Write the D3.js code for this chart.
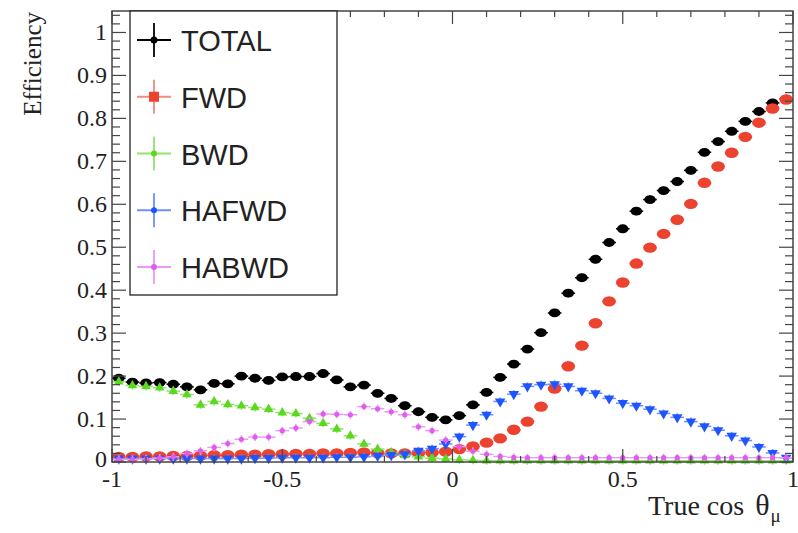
<!DOCTYPE html>
<html>
<head>
<meta charset="utf-8">
<script src="https://cdn.jsdelivr.net/npm/d3@7"></script>
<style>
body { margin: 0; background: #fff; }
svg { display: block; }
</style>
</head>
<body>
<div id="chart"></div>
<script>
// bin centres of true cos(theta_mu), 50 bins of 0.04
var cosTheta = [-0.98,-0.94,-0.90,-0.86,-0.82,-0.78,-0.74,-0.70,-0.66,-0.62,
	-0.58,-0.54,-0.50,-0.46,-0.42,-0.38,-0.34,-0.30,-0.26,-0.22,
	-0.18,-0.14,-0.10,-0.06,-0.02,0.02,0.06,0.10,0.14,0.18,
	0.22,0.26,0.30,0.34,0.38,0.42,0.46,0.50,0.54,0.58,
	0.62,0.66,0.70,0.74,0.78,0.82,0.86,0.90,0.94,0.98];
var binHalfWidth = 0.02;

var totalEff = [0.195,0.186,0.184,0.185,0.181,0.175,0.168,0.183,0.182,0.200,
	0.195,0.190,0.198,0.199,0.199,0.206,0.191,0.175,0.179,0.160,
	0.148,0.131,0.117,0.104,0.098,0.108,0.133,0.162,0.197,0.228,
	0.263,0.301,0.347,0.393,0.429,0.472,0.511,0.543,0.584,0.611,
	0.632,0.653,0.679,0.721,0.746,0.770,0.793,0.816,0.836,0.845];
var fwdEff = [0.012,0.012,0.013,0.013,0.014,0.014,0.015,0.016,0.016,0.017,
	0.017,0.018,0.018,0.019,0.019,0.020,0.020,0.021,0.022,0.021,
	0.020,0.020,0.021,0.022,0.024,0.030,0.036,0.045,0.055,0.075,
	0.094,0.129,0.171,0.223,0.271,0.323,0.374,0.418,0.462,0.499,
	0.531,0.564,0.601,0.650,0.688,0.720,0.757,0.790,0.823,0.844];
var bwdEff = [0.187,0.178,0.176,0.173,0.165,0.157,0.133,0.141,0.134,0.131,
	0.127,0.123,0.115,0.113,0.102,0.090,0.077,0.061,0.042,0.030,
	0.022,0.016,0.012,0.009,0.007,0.005,0.004,0.003,0.003,0.003,
	0.003,0.003,0.003,0.003,0.003,0.003,0.003,0.003,0.003,0.003,
	0.003,0.003,0.003,0.003,0.003,0.003,0.003,0.003,0.003,0.003];
var hafwdEff = [0.008,0.008,0.008,0.008,0.008,0.008,0.008,0.008,0.008,0.008,
	0.009,0.009,0.010,0.010,0.010,0.010,0.011,0.011,0.012,0.014,
	0.016,0.018,0.026,0.031,0.042,0.059,0.086,0.110,0.141,0.158,
	0.176,0.180,0.181,0.176,0.166,0.160,0.148,0.137,0.131,0.123,
	0.113,0.104,0.094,0.083,0.074,0.061,0.050,0.035,0.021,0.010];
var habwdEff = [0.006,0.006,0.007,0.009,0.012,0.020,0.026,0.034,0.043,0.053,
	0.058,0.058,0.073,0.079,0.094,0.112,0.111,0.110,0.129,0.124,
	0.117,0.110,0.082,0.073,0.051,0.036,0.025,0.018,0.013,0.011,
	0.010,0.010,0.010,0.010,0.010,0.010,0.010,0.010,0.010,0.010,
	0.010,0.010,0.010,0.010,0.010,0.010,0.010,0.010,0.010,0.010];

var seriesNames = ['TOTAL', 'FWD', 'BWD', 'HAFWD', 'HABWD'];
var xTickLabels = ['-1', '-0.5', '0', '0.5', '1'];
var yTickLabels = ['0', '0.1', '0.2', '0.3', '0.4', '0.5', '0.6', '0.7', '0.8', '0.9', '1'];

var W = 798, H = 533;
var frame = { left: 112, right: 793, top: 11, bottom: 462 };

var svg = d3.select('#chart')
	.append('svg')
	.attr('width', W)
	.attr('height', H)
	.style('background', '#fff');

var xScale = d3.scaleLinear().domain([-1, 1]).range([frame.left, frame.right]);
var yScale = d3.scaleLinear().domain([0, 1.05]).range([frame.bottom, frame.top]);

// series styles (ROOT-ish markers)
var styles = {
	TOTAL: { color: '#000000', err: '#000000', marker: 'ellipse', rx: 5.8, ry: 4.4 },
	FWD:   { color: '#ec4330', err: '#f08a7c', marker: 'ellipse', rx: 6.8, ry: 5.2 },
	BWD:   { color: '#5cd820', err: '#8fe46a', marker: 'tri', size: 40 },
	HAFWD: { color: '#1f55ff', err: '#6d8fff', marker: 'tridown', size: 48 },
	HABWD: { color: '#e05cf0', err: '#ec9af5', marker: 'dot', r: 2.6 }
};

var series = [
	{ name: 'TOTAL', values: totalEff },
	{ name: 'FWD', values: fwdEff },
	{ name: 'BWD', values: bwdEff },
	{ name: 'HAFWD', values: hafwdEff },
	{ name: 'HABWD', values: habwdEff }
];

function drawMarker(g, st) {
	if (st.marker === 'ellipse') {
		g.append('ellipse').attr('rx', st.rx).attr('ry', st.ry).attr('fill', st.color);
	} else if (st.marker === 'tri') {
		g.append('path').attr('d', d3.symbol().type(d3.symbolTriangle).size(st.size)())
			.attr('fill', st.color);
	} else if (st.marker === 'tridown') {
		g.append('path').attr('d', d3.symbol().type(d3.symbolTriangle).size(st.size)())
			.attr('transform', 'rotate(180)')
			.attr('fill', st.color);
	} else {
		g.append('circle').attr('r', st.r).attr('fill', st.color);
	}
}

// Data points with error bars
var plot = svg.append('g').attr('class', 'points');
series.forEach(function (s) {
	var st = styles[s.name];
	var pts = plot.append('g').attr('class', 'series')
		.selectAll('g')
		.data(s.values.map(function (v, i) { return { x: cosTheta[i], y: v }; }))
		.enter()
		.append('g')
		.attr('transform', function (d) {
			return 'translate(' + xScale(d.x) + ',' + yScale(d.y) + ')';
		});
	pts.append('line')
		.attr('x1', function (d) { return xScale(d.x - binHalfWidth) - xScale(d.x); })
		.attr('x2', function (d) { return xScale(d.x + binHalfWidth) - xScale(d.x); })
		.attr('stroke', st.err)
		.attr('stroke-width', 1.5);
	pts.append('line')
		.attr('y1', -4).attr('y2', 4)
		.attr('stroke', st.err)
		.attr('stroke-width', 1.5);
	pts.each(function () { drawMarker(d3.select(this), st); });
});

// Frame
svg.append('rect')
	.attr('x', frame.left)
	.attr('y', frame.top)
	.attr('width', frame.right - frame.left)
	.attr('height', frame.bottom - frame.top)
	.attr('fill', 'none')
	.attr('stroke', '#444')
	.attr('stroke-width', 1.5);

// X ticks: major every 0.5, minor every 0.1, on bottom and top
var xMajor = xTickLabels.map(Number);
var xMinor = d3.range(-10, 11).map(function (k) { return k / 10; });
var ticks = svg.append('g').attr('stroke', '#444').attr('stroke-width', 1.2);
xMinor.forEach(function (v) {
	var isMajor = xMajor.some(function (m) { return Math.abs(m - v) < 1e-6; });
	var len = isMajor ? 13 : 6;
	ticks.append('line').attr('x1', xScale(v)).attr('x2', xScale(v))
		.attr('y1', frame.bottom).attr('y2', frame.bottom - len);
	ticks.append('line').attr('x1', xScale(v)).attr('x2', xScale(v))
		.attr('y1', frame.top).attr('y2', frame.top + len);
});

// Y ticks: major every 0.1, minor every 0.02, on left and right
var yMinor = d3.range(0, 53).map(function (k) { return k * 0.02; });
yMinor.forEach(function (v, k) {
	var len = (k % 5 === 0) ? 14 : 8;
	ticks.append('line').attr('y1', yScale(v)).attr('y2', yScale(v))
		.attr('x1', frame.left).attr('x2', frame.left + len);
	ticks.append('line').attr('y1', yScale(v)).attr('y2', yScale(v))
		.attr('x1', frame.right).attr('x2', frame.right - len);
});

// Tick labels
var serif = '"Liberation Serif", "DejaVu Serif", serif';
svg.append('g').selectAll('text')
	.data(xTickLabels)
	.enter()
	.append('text')
	.attr('x', function (d) { return xScale(+d); })
	.attr('y', 487)
	.attr('text-anchor', 'middle')
	.style('font-family', serif)
	.style('font-size', '24px')
	.attr('fill', '#222')
	.text(function (d) { return d; });

svg.append('g').selectAll('text')
	.data(yTickLabels)
	.enter()
	.append('text')
	.attr('x', 107)
	.attr('y', function (d) { return yScale(+d) + (d === '0' ? 5 : 8); })
	.attr('text-anchor', 'end')
	.style('font-family', serif)
	.style('font-size', '24px')
	.attr('fill', '#222')
	.text(function (d) { return d; });

// Axis titles
svg.append('text')
	.attr('transform', 'translate(41,12) rotate(-90)')
	.attr('text-anchor', 'end')
	.style('font-family', serif)
	.style('font-size', '25px')
	.attr('fill', '#222')
	.text('Efficiency');

var xt = svg.append('text')
	.attr('x', 648)
	.attr('y', 515)
	.style('font-family', serif)
	.style('font-size', '28px')
	.attr('fill', '#222');
xt.append('tspan').text('True cos');
xt.append('tspan').attr('dx', 11).style('font-size', '30px').text('θ');
xt.append('tspan').attr('dx', 1).attr('dy', 7).style('font-size', '19px').text('μ');

// Legend
var legend = svg.append('g').attr('class', 'legend');
legend.append('rect')
	.attr('x', 130).attr('y', 11)
	.attr('width', 207).attr('height', 284)
	.attr('fill', '#fff')
	.attr('stroke', '#222')
	.attr('stroke-width', 1.3);

var legendY = d3.scalePoint().domain(seriesNames).range([40, 267]);
seriesNames.forEach(function (name) {
	var st = styles[name];
	var g = legend.append('g')
		.attr('transform', 'translate(154,' + legendY(name) + ')');
	g.append('line').attr('x1', -17).attr('x2', 17)
		.attr('stroke', st.err).attr('stroke-width', 1.8);
	g.append('line').attr('y1', -17).attr('y2', 17)
		.attr('stroke', st.err).attr('stroke-width', 1.8);
	if (name === 'FWD') {
		g.append('rect').attr('x', -5).attr('y', -5).attr('width', 10).attr('height', 10)
			.attr('fill', st.color);
	} else {
		g.append('circle').attr('r', name === 'TOTAL' ? 3.5 : 3).attr('fill', st.color);
	}
	legend.append('text')
		.attr('x', 181)
		.attr('y', legendY(name) + 11)
		.style('font-family', '"Liberation Sans", Arial, sans-serif')
		.style('font-size', '29px')
		.attr('fill', '#222')
		.text(name);
});
</script>
</body>
</html>
